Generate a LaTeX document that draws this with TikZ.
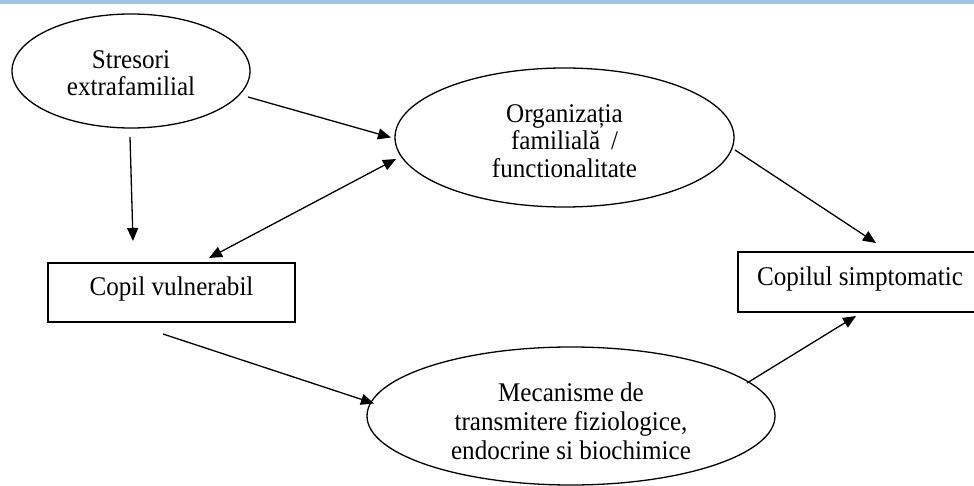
\documentclass[tikz,border=0pt]{standalone}
\usepackage{fontspec}
\setmainfont{Liberation Serif}
\newfontfamily\tallserif[FakeStretch=0.93]{Liberation Serif}
\usetikzlibrary{shapes.geometric,arrows.meta}
\definecolor{topbar}{RGB}{157,195,230}
\tikzset{
  oval/.style={draw, line width=1.3pt, ellipse, inner sep=0pt},
  boxnode/.style={draw, line width=1.3pt, rectangle, inner sep=0pt},
  txt/.style={inner sep=0pt, align=center},
  conn/.style={line width=1.3pt, -{Triangle[length=13pt,width=11pt]}},
  dconn/.style={line width=1.3pt, {Triangle[length=13pt,width=11pt]}-{Triangle[length=13pt,width=11pt]}}
}
\begin{document}
\begin{tikzpicture}[x=1pt,y=-1pt]
\useasboundingbox (0,0) rectangle (974,486);
\fill[topbar] (0,0) rectangle (974,4);
\node[oval, minimum width=238pt, minimum height=114pt] (s) at (131,71) {};
\node[oval, minimum width=339pt, minimum height=139pt] (o) at (564.5,137.5) {};
\node[oval, minimum width=408pt, minimum height=138pt] (m) at (571,416) {};
\node[boxnode, minimum width=247pt, minimum height=59pt] (cv) at (171.5,292.5) {};
\node[boxnode, minimum width=244pt, minimum height=60pt] (cs) at (860,282) {};
\node[txt, font=\tallserif\fontsize{27}{26.5}\selectfont] (st) at ([yshift=-2pt]s.center) {Stresori\\extrafamilial};
\node[txt, font=\tallserif\fontsize{27}{27.5}\selectfont] (ot) at ([yshift=-3.5pt]o.center) {Organizația\\familială \,/\\functionalitate};
\node[txt, font=\tallserif\fontsize{27}{29}\selectfont] (mt) at ([yshift=-5.5pt]m.center) {Mecanisme de\\transmitere fiziologice,\\endocrine si biochimice};
\node[txt, font=\tallserif\fontsize{27}{29}\selectfont] (cvt) at ([yshift=3.5pt]cv.center) {Copil vulnerabil};
\node[txt, font=\tallserif\fontsize{27}{29}\selectfont] (cst) at ([yshift=2.5pt]cs.center) {Copilul simptomatic};
\coordinate (s1) at (248,97);
\coordinate (o1) at (391,137.5);
\coordinate (s2) at (130,137);
\coordinate (cv1) at (133,241);
\coordinate (cv2) at (209,258);
\coordinate (o2) at (396,159);
\coordinate (o3) at (735,150);
\coordinate (cs1) at (876,243);
\coordinate (cv3) at (163,334);
\coordinate (m1) at (374,403.5);
\coordinate (m2) at (747,383);
\coordinate (cs2) at (856,316);
\draw[conn] (s1) -- (o1);
\draw[conn] (s2) -- (cv1);
\draw[dconn] (cv2) -- (o2);
\draw[conn] (o3) -- (cs1);
\draw[conn] (cv3) -- (m1);
\draw[conn] (m2) -- (cs2);
\end{tikzpicture}
\end{document}
